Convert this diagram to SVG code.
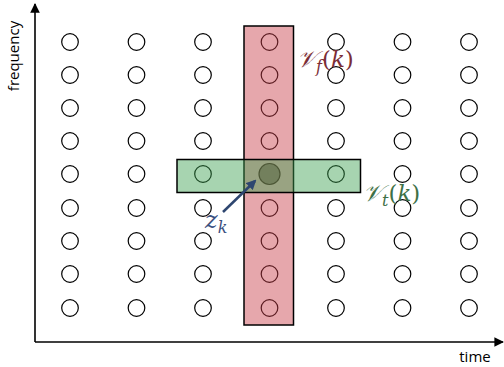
<svg xmlns="http://www.w3.org/2000/svg" width="504" height="367" viewBox="0 0 504 367">
<defs>
<style>
.pt{fill:none;stroke:#000;stroke-width:1.2}
.ax{stroke:#000;stroke-width:1.6;fill:none}
.lab{font-family:"Open Sans","Noto Sans",sans-serif;font-size:15px;fill:#000}
.math{font-family:"DejaVu Serif","Liberation Serif",serif;font-style:italic}
.up{font-style:normal}
</style>
<marker id="ah" viewBox="0 0 10 10" refX="9" refY="5" markerWidth="6" markerHeight="6" orient="auto" markerUnits="strokeWidth">
<path d="M0,0 L10,5 L0,10 z" fill="#000"/>
</marker>
<marker id="bh" viewBox="0 0 10 10" refX="8" refY="5" markerWidth="4" markerHeight="4" orient="auto" markerUnits="strokeWidth">
<path d="M0,0 L10,5 L0,10 z" fill="#2e4670"/>
</marker>
</defs>
<rect width="504" height="367" fill="#fff"/>
<g id="axes">
<line class="ax" x1="35" y1="342" x2="35" y2="4" marker-end="url(#ah)"/>
<line class="ax" x1="35" y1="342" x2="503" y2="342" marker-end="url(#ah)"/>
<text class="lab" transform="translate(19,56) rotate(-90)" text-anchor="middle">frequency</text>
<text class="lab" x="475" y="362" text-anchor="middle">time</text>
</g>
<g id="grid">
<g transform="translate(70,0)"><circle class="pt" cx="0" cy="42" r="8.3"/><circle class="pt" cx="0" cy="75" r="8.3"/><circle class="pt" cx="0" cy="108" r="8.3"/><circle class="pt" cx="0" cy="141" r="8.3"/><circle class="pt" cx="0" cy="174" r="8.3"/><circle class="pt" cx="0" cy="208" r="8.3"/><circle class="pt" cx="0" cy="241" r="8.3"/><circle class="pt" cx="0" cy="274" r="8.3"/><circle class="pt" cx="0" cy="308" r="8.3"/></g>
<g transform="translate(136.5,0)"><circle class="pt" cx="0" cy="42" r="8.3"/><circle class="pt" cx="0" cy="75" r="8.3"/><circle class="pt" cx="0" cy="108" r="8.3"/><circle class="pt" cx="0" cy="141" r="8.3"/><circle class="pt" cx="0" cy="174" r="8.3"/><circle class="pt" cx="0" cy="208" r="8.3"/><circle class="pt" cx="0" cy="241" r="8.3"/><circle class="pt" cx="0" cy="274" r="8.3"/><circle class="pt" cx="0" cy="308" r="8.3"/></g>
<g transform="translate(203,0)"><circle class="pt" cx="0" cy="42" r="8.3"/><circle class="pt" cx="0" cy="75" r="8.3"/><circle class="pt" cx="0" cy="108" r="8.3"/><circle class="pt" cx="0" cy="141" r="8.3"/><circle class="pt" cx="0" cy="174" r="8.3"/><circle class="pt" cx="0" cy="208" r="8.3"/><circle class="pt" cx="0" cy="241" r="8.3"/><circle class="pt" cx="0" cy="274" r="8.3"/><circle class="pt" cx="0" cy="308" r="8.3"/></g>
<g transform="translate(269.5,0)"><circle class="pt" cx="0" cy="42" r="8.3"/><circle class="pt" cx="0" cy="75" r="8.3"/><circle class="pt" cx="0" cy="108" r="8.3"/><circle class="pt" cx="0" cy="141" r="8.3"/><circle cx="0" cy="174" r="10.5" fill="#808a86" stroke="#000" stroke-width="1.2"/><circle class="pt" cx="0" cy="208" r="8.3"/><circle class="pt" cx="0" cy="241" r="8.3"/><circle class="pt" cx="0" cy="274" r="8.3"/><circle class="pt" cx="0" cy="308" r="8.3"/></g>
<g transform="translate(336,0)"><circle class="pt" cx="0" cy="42" r="8.3"/><circle class="pt" cx="0" cy="75" r="8.3"/><circle class="pt" cx="0" cy="108" r="8.3"/><circle class="pt" cx="0" cy="141" r="8.3"/><circle class="pt" cx="0" cy="174" r="8.3"/><circle class="pt" cx="0" cy="208" r="8.3"/><circle class="pt" cx="0" cy="241" r="8.3"/><circle class="pt" cx="0" cy="274" r="8.3"/><circle class="pt" cx="0" cy="308" r="8.3"/></g>
<g transform="translate(402.5,0)"><circle class="pt" cx="0" cy="42" r="8.3"/><circle class="pt" cx="0" cy="75" r="8.3"/><circle class="pt" cx="0" cy="108" r="8.3"/><circle class="pt" cx="0" cy="141" r="8.3"/><circle class="pt" cx="0" cy="174" r="8.3"/><circle class="pt" cx="0" cy="208" r="8.3"/><circle class="pt" cx="0" cy="241" r="8.3"/><circle class="pt" cx="0" cy="274" r="8.3"/><circle class="pt" cx="0" cy="308" r="8.3"/></g>
<g transform="translate(469,0)"><circle class="pt" cx="0" cy="42" r="8.3"/><circle class="pt" cx="0" cy="75" r="8.3"/><circle class="pt" cx="0" cy="108" r="8.3"/><circle class="pt" cx="0" cy="141" r="8.3"/><circle class="pt" cx="0" cy="174" r="8.3"/><circle class="pt" cx="0" cy="208" r="8.3"/><circle class="pt" cx="0" cy="241" r="8.3"/><circle class="pt" cx="0" cy="274" r="8.3"/><circle class="pt" cx="0" cy="308" r="8.3"/></g>
</g>
<g id="freq-band">
<rect x="244" y="26" width="49.5" height="299" fill="rgb(200,60,70)" fill-opacity="0.45"/>
<rect x="244" y="26" width="49.5" height="299" fill="none" stroke="#000" stroke-width="1.5"/>
</g>
<g id="time-band">
<rect x="177" y="159.5" width="183.5" height="33" fill="rgb(60,160,80)" fill-opacity="0.45"/>
<rect x="177" y="159.5" width="183.5" height="33" fill="none" stroke="#000" stroke-width="1.5"/>
</g>
<g id="labels">
<text class="math" x="297" y="67" font-size="23" fill="#7b2d36">𝒱<tspan font-size="16" dy="5">f</tspan><tspan class="up" dy="-5">(</tspan>k<tspan class="up">)</tspan></text>
<text class="math" x="363" y="201" font-size="23" fill="#3e7046">𝒱<tspan font-size="16" dy="5">t</tspan><tspan class="up" dy="-5">(</tspan>k<tspan class="up">)</tspan></text>
<text class="math" x="205" y="228" font-size="24" fill="#3a5080">z<tspan font-size="16" dy="5">k</tspan></text>
</g>
<g id="connectors">
<line x1="223" y1="212" x2="255" y2="181" stroke="#2e4670" stroke-width="2.5" marker-end="url(#bh)"/>
</g>
</svg>
